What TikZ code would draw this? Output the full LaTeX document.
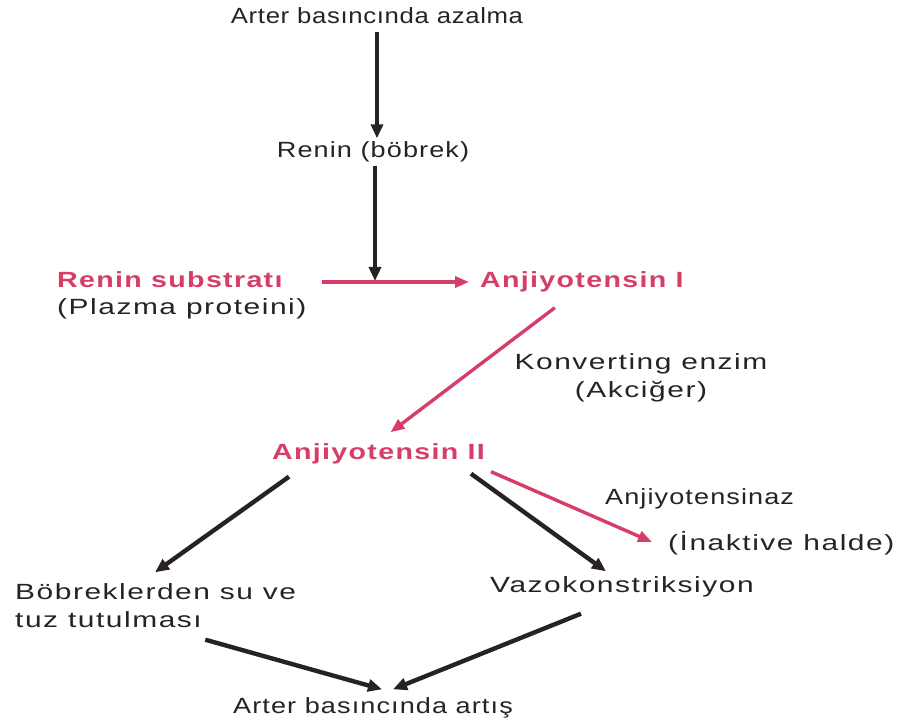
\documentclass[tikz,border=0pt]{standalone}
\usepackage{fontspec}
\setmainfont{Liberation Sans}[FakeStretch=1.36,LetterSpace=7]
\newfontfamily\narrowfont{Liberation Sans}[FakeStretch=1.23,LetterSpace=5]
\newfontfamily\topfont{Liberation Sans}[FakeStretch=1.17,LetterSpace=3]
\newfontfamily\redfont{Liberation Sans Bold}[FakeStretch=1.3,LetterSpace=6]
\usepackage{xcolor}
\usetikzlibrary{arrows.meta}

\definecolor{raared}{RGB}{214,62,104}
\definecolor{raablack}{RGB}{40,35,33}

\begin{document}
\begin{tikzpicture}[x=1pt,y=-1pt,
  txt/.style={inner sep=3pt,text height=16pt,text depth=5pt,font=\fontsize{22}{28}\selectfont,text=raablack},
  narrowtxt/.style={txt,font=\fontsize{22}{28}\selectfont\narrowfont},
  redtxt/.style={txt,font=\fontsize{22}{28}\selectfont\redfont,text=raared},
  blkarrow/.style={line width=4.4pt,draw=raablack,-{Triangle[length=14pt,width=12pt]}},
  redarrow/.style={line width=3.4pt,draw=raared,-{Triangle[length=14pt,width=11pt]}}]

\useasboundingbox (0,0) rectangle (903,722);

% Top
\node[txt,font=\fontsize{22}{28}\selectfont\topfont] (azalma) at (377,18) {Arter basıncında azalma};

% Renin
\node[narrowtxt] (renin) at (373,152) {Renin (böbrek)};

% Renin substrate
\node[redtxt,anchor=west] (substrat) at (54,282) {Renin substratı};
\node[txt,anchor=west] (plazma) at (54,309) {(Plazma proteini)};

% Angiotensin I
\node[redtxt,anchor=west] (anj1) at (477,282) {Anjiyotensin I};

% Converting enzyme
\node[txt,align=center] (konv) at (641,392) {Konverting enzim\\(Akciğer)};

% Angiotensin II
\node[redtxt,anchor=west] (anj2) at (269,454) {Anjiyotensin II};

% Angiotensinase
\node[narrowtxt,anchor=west] (anjnaz) at (602,499) {Anjiyotensinaz};
\node[txt,anchor=west] (inaktif) at (665,545) {(İnaktive halde)};

% Effects
\node[txt,anchor=west,align=left] (bobrek) at (12,622) {Böbreklerden su ve\\tuz tutulması};
\node[txt,anchor=west] (vazo) at (487,587) {Vazokonstriksiyon};

% Bottom
\node[narrowtxt] (artis) at (373,708) {Arter basıncında artış};

% Arrows
\coordinate (join) at (375,281);
\draw[blkarrow] (azalma.south) -- (azalma.south |- renin.north);
\draw[blkarrow] (renin.south -| join) -- (join);
\draw[redarrow,shorten <=36pt,shorten >=8pt] (substrat.east) -- (anj1.west);
\draw[redarrow] ([xshift=-27pt,yshift=-12pt]anj1.south) -- ([xshift=12pt,yshift=8pt]anj2.north);
\draw[blkarrow] ([xshift=20pt,yshift=-9pt]anj2.south west) -- ([xshift=143pt,yshift=36pt]bobrek.north west);
\draw[blkarrow] ([xshift=-17pt,yshift=-6pt]anj2.south east) -- ([xshift=-16pt,yshift=2pt]vazo.north);
\draw[redarrow] ([xshift=3pt,yshift=-4pt]anj2.south east) -- ([xshift=-13pt,yshift=3pt]inaktif.west);
\draw[blkarrow] ([xshift=-94pt,yshift=-4pt]bobrek.south east) -- ([xshift=9pt,yshift=5pt]artis.north);
\draw[blkarrow] ([xshift=-41pt,yshift=-13pt]vazo.south) -- ([xshift=20pt,yshift=5pt]artis.north);

\end{tikzpicture}
\end{document}
